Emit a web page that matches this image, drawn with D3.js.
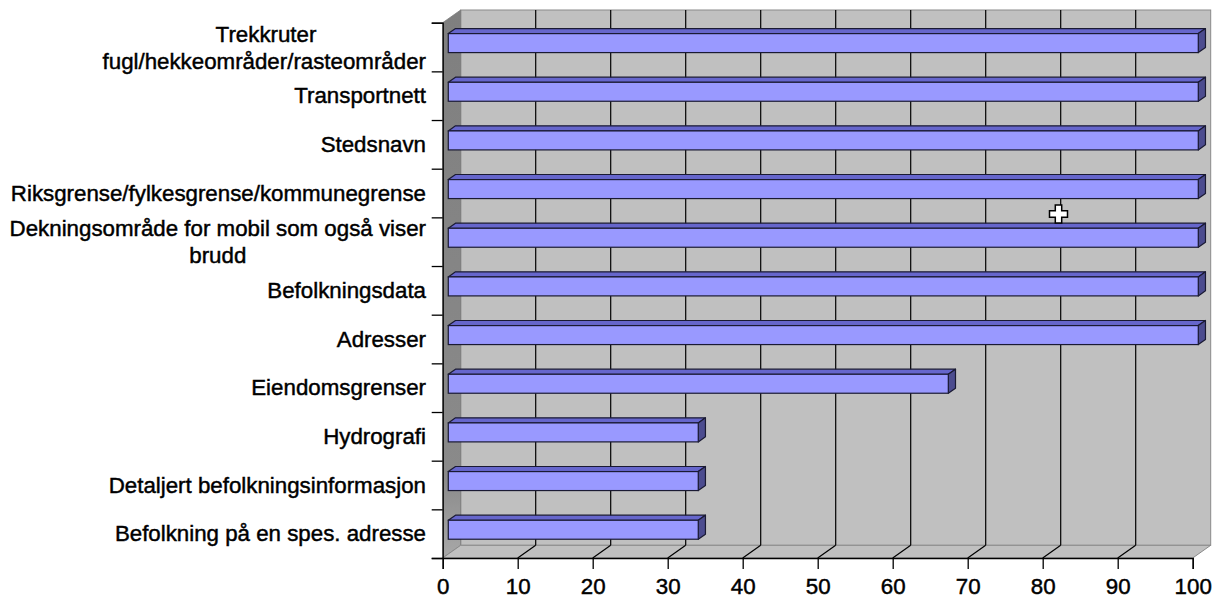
<!DOCTYPE html>
<html>
<head>
<meta charset="utf-8">
<script src="https://cdn.jsdelivr.net/npm/d3@7"></script>
<style>
  html, body { margin: 0; padding: 0; background: #ffffff; }
  svg { display: block; }
  text { font-family: "Liberation Sans", Arial, sans-serif; fill: #000; stroke: #000; stroke-width: 0.45px; }
</style>
</head>
<body>
<svg id="chart" width="1216" height="601"></svg>
<script>
// Categories, top to bottom; "\n" marks a wrapped line
const categories = [
  "Trekkruter\nfugl/hekkeområder/rasteområder",
  "Transportnett",
  "Stedsnavn",
  "Riksgrense/fylkesgrense/kommunegrense",
  "Dekningsområde for mobil som også viser\nbrudd",
  "Befolkningsdata",
  "Adresser",
  "Eiendomsgrenser",
  "Hydrografi",
  "Detaljert befolkningsinformasjon",
  "Befolkning på en spes. adresse"
];
const values = [100, 100, 100, 100, 100, 100, 100, 66.67, 33.33, 33.33, 33.33];
const xTicks = [0, 10, 20, 30, 40, 50, 60, 70, 80, 90, 100];

const svg = d3.select("#chart");
const fontSize = 22.3;

// Front plane of the 3D box and its depth offset
const plotL = 442.7, plotR = 1192.7, plotT = 22.7, plotB = 558;
const depth = { x: 18, y: -12.7 };
const barFront = 0.31, barBack = 0.71;   // bar position within the depth

const x = d3.scaleLinear().domain([0, 100]).range([plotL, plotR]);
const y = d3.scaleBand().domain(categories).range([plotT, plotB]).padding(0);
const yEdge = d3.scaleLinear().domain([0, categories.length]).range([plotB, plotT]);

const pts = a => a.map(p => p.join(",")).join(" ");

// Back wall
svg.append("rect")
  .attr("x", plotL + depth.x).attr("y", plotT + depth.y)
  .attr("width", plotR - plotL).attr("height", plotB - plotT)
  .attr("fill", "#c0c0c0").attr("stroke", "#8a8a8a").attr("stroke-width", 1);

// Side wall with a soft shade
const grad = svg.append("defs").append("linearGradient")
  .attr("id", "sideShade").attr("x1", 0).attr("y1", 0).attr("x2", 0).attr("y2", 1);
grad.append("stop").attr("offset", "0%").attr("stop-color", "#7f7f7f");
grad.append("stop").attr("offset", "85%").attr("stop-color", "#8a8a8a");
grad.append("stop").attr("offset", "100%").attr("stop-color", "#a8a8a8");
svg.append("polygon")
  .attr("points", pts([[plotL, plotT], [plotL + depth.x, plotT + depth.y],
                       [plotL + depth.x, plotB + depth.y], [plotL, plotB]]))
  .attr("fill", "url(#sideShade)").attr("stroke", "#7a7a7a").attr("stroke-width", 0.8);

// Floor
svg.append("polygon")
  .attr("points", pts([[plotL, plotB], [plotR, plotB],
                       [plotR + depth.x, plotB + depth.y], [plotL + depth.x, plotB + depth.y]]))
  .attr("fill", "#c0c0c0").attr("stroke", "#8a8a8a").attr("stroke-width", 1);

// Gridlines on the back wall and across the floor
const grid = svg.append("g").attr("stroke", "#000").attr("stroke-width", 1.2);
xTicks.slice(1, -1).forEach(t => {
  const gx = x(t);
  grid.append("line")
    .attr("x1", gx + depth.x).attr("x2", gx + depth.x)
    .attr("y1", plotT + depth.y).attr("y2", plotB + depth.y);
  grid.append("line")
    .attr("x1", gx).attr("y1", plotB)
    .attr("x2", gx + depth.x).attr("y2", plotB + depth.y);
});

// 3D bars
const barH = y.bandwidth() * 0.39;
const f0 = { x: depth.x * barFront, y: depth.y * barFront };
const f1 = { x: depth.x * (barBack - barFront), y: depth.y * (barBack - barFront) };
const bars = svg.append("g").selectAll("g").data(categories).join("g");
bars.each(function (c, i) {
  const g = d3.select(this);
  const x0 = x(0) + f0.x, x1 = x(values[i]) + f0.x;
  const yc = y(c) + y.bandwidth() / 2 + f0.y;
  const y0 = yc - barH / 2, y1 = yc + barH / 2;
  g.append("polygon")
    .attr("points", pts([[x0, y0], [x1, y0], [x1 + f1.x, y0 + f1.y], [x0 + f1.x, y0 + f1.y]]))
    .attr("fill", "#6666cc").attr("stroke", "#1a1a33").attr("stroke-width", 1.2)
    .attr("stroke-linejoin", "round");
  g.append("polygon")
    .attr("points", pts([[x1, y0], [x1 + f1.x, y0 + f1.y], [x1 + f1.x, y1 + f1.y], [x1, y1]]))
    .attr("fill", "#4c4c8f").attr("stroke", "#1a1a33").attr("stroke-width", 1.2)
    .attr("stroke-linejoin", "round");
  g.append("rect")
    .attr("x", x0).attr("y", y0).attr("width", x1 - x0).attr("height", y1 - y0)
    .attr("fill", "#9999ff").attr("stroke", "#1a1a33").attr("stroke-width", 1.2);
});

// Value axis
const xAxis = svg.append("g")
  .attr("transform", `translate(0,${plotB})`)
  .call(d3.axisBottom(x).tickValues(xTicks).tickSize(11).tickPadding(8).tickFormat(d3.format("d")));
xAxis.select(".domain").attr("stroke", "#000").attr("stroke-width", 1.3);
xAxis.selectAll(".tick line").attr("stroke", "#000").attr("stroke-width", 1.3);
xAxis.selectAll("text").attr("font-size", fontSize).attr("dy", "0.78em")
  .style("font-family", "'Liberation Sans', Arial, sans-serif");

// Category axis: ticks sit on the band edges
const yAxis = svg.append("g")
  .attr("transform", `translate(${plotL},0)`)
  .call(d3.axisLeft(yEdge).tickValues(d3.range(categories.length + 1)).tickSize(11).tickFormat(""));
yAxis.select(".domain").attr("stroke", "#000").attr("stroke-width", 1.3);
yAxis.selectAll(".tick line").attr("stroke", "#000").attr("stroke-width", 1.3);

// Category labels
const labelRight = 426, lineGap = 27;
const labels = svg.append("g").attr("font-size", fontSize);
categories.forEach((c, i) => {
  const lines = c.split("\n");
  const yc = y(c) + y.bandwidth() / 2;
  if (lines.length === 1) {
    labels.append("text").attr("x", labelRight).attr("y", yc + 7.5)
      .attr("text-anchor", "end").text(c);
    return;
  }
  const t = labels.append("text").attr("text-anchor", "middle");
  const spans = lines.map((ln, k) => t.append("tspan")
    .attr("y", yc - 5.5 + k * lineGap).text(ln));
  const widest = d3.max(spans, s => s.node().getComputedTextLength());
  // wrapped labels are centred in a box whose right edge meets the axis;
  // an unbreakable line wider than the box overflows to the left
  const box = i === 0 ? 320 : widest;
  const cx = labelRight - box / 2;
  spans.forEach(s => {
    const w = s.node().getComputedTextLength();
    s.attr("x", w > box ? labelRight - w / 2 : cx);
  });
});

// Mouse pointer left over the plot
const px = 1058.5, py = 214, a = 3.2, b = 9;
svg.append("path")
  .attr("d", `M${px - a},${py - b}H${px + a}V${py - a}H${px + b}V${py + a}H${px + a}V${py + b}H${px - a}V${py + a}H${px - b}V${py - a}H${px - a}Z`)
  .attr("fill", "#fff").attr("stroke", "#000").attr("stroke-width", 1.5);
</script>
</body>
</html>
